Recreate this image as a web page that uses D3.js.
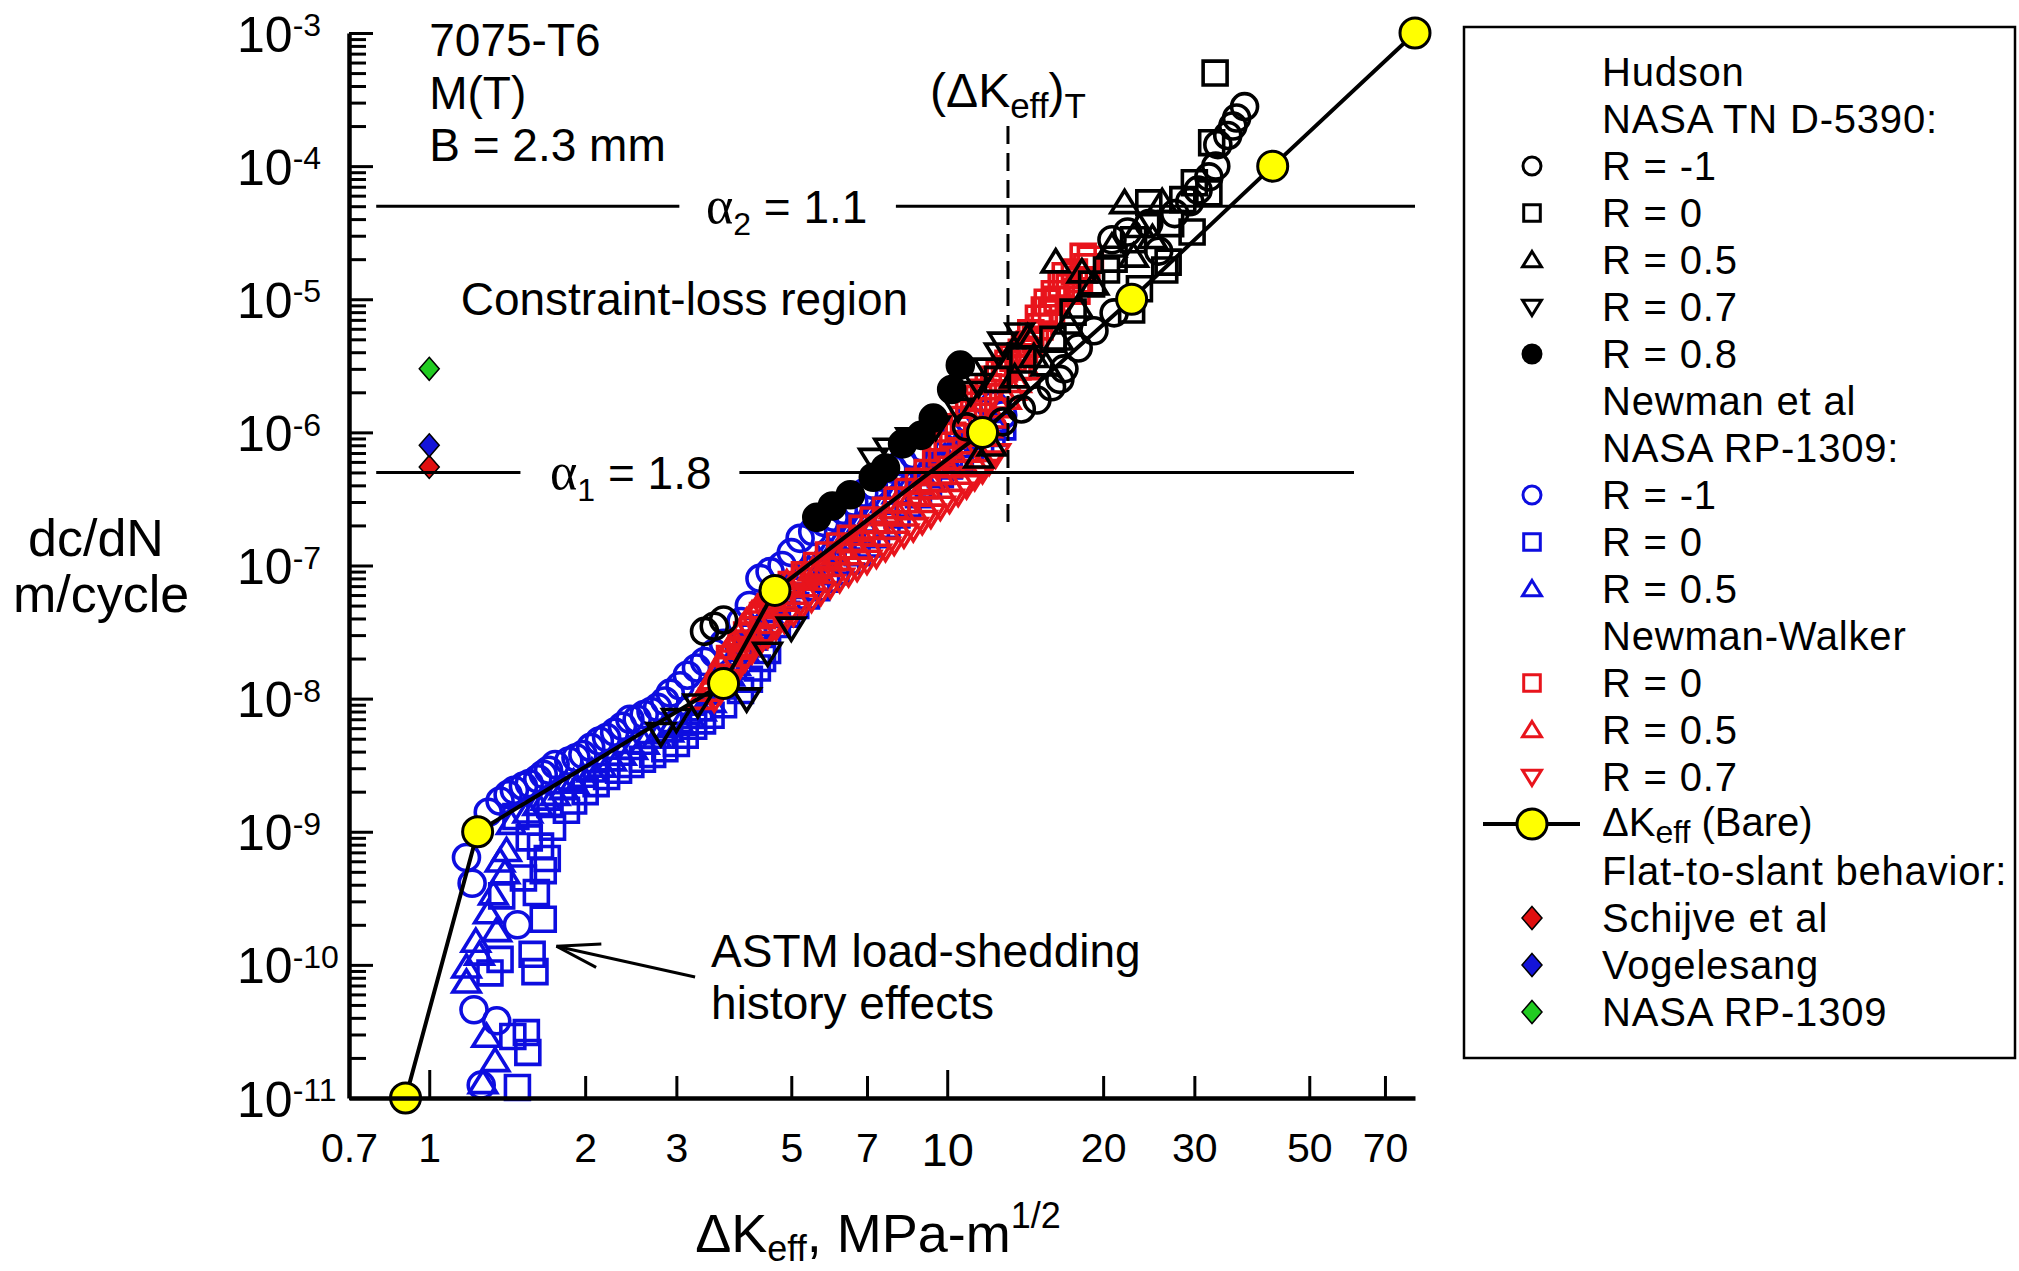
<!DOCTYPE html>
<html>
<head>
<meta charset="utf-8">
<script src="https://cdn.jsdelivr.net/npm/d3@7"></script>
<style>
  body { margin: 0; background: #fff; }
</style>
</head>
<body>
<div id="chart"></div>
<script>
// ---- data: [deltaKeff (MPa-m^1/2), dc/dN (m/cycle)]
const hudsonRm1 = [[3.4,3.2e-8],[3.55,3.5e-8],[3.7,3.9e-8],[10.9,1.1e-6],[12.8,1.2e-6],[13.9,1.5e-6],[14.9,1.75e-6],
  [15.9,2.2e-6],[16.5,2.5e-6],[16.8,3.0e-6],[17.9,4.3e-6],[19.2,5.8e-6],[21,7.9e-6],[20.8,2.8e-5],[22.3,3.2e-5],
  [24.5,3.7e-5],[25.6,2.3e-5],[27.5,4.4e-5],[29.4,5.4e-5],[30.5,6.6e-5],[32,8.3e-5],[33,1.0e-4],[33.3,1.45e-4],
  [34.8,1.7e-4],[35.6,2.0e-4],[36.2,2.3e-4],[37.5,2.8e-4]];
const hudsonR0 = [[32.9,5.0e-4],[32.4,1.5e-4],[30,7.5e-5],[32,6.3e-5],[28.5,5.6e-5],[24.5,5.3e-5],[27,3.7e-5],
  [29.7,3.2e-5],[22.9,2.8e-5],[21,2.0e-5],[26.7,1.9e-5],[20.3,1.66e-5],[26.3,1.66e-5],[23.5,1.2e-5],[22.7,8.3e-6],
  [19,1.3e-5],[17.5,8e-6],[16,5e-6],[14,3.5e-6],[12.5,2.5e-6]];
const hudsonR05 = [[22,5.3e-5],[26,5.4e-5],[24.9,2.9e-5],[20.8,2.5e-5],[22.9,2.1e-5],[16.2,1.9e-5],[19.2,1.3e-5],
  [17.9,8.7e-6],[17.1,6.6e-6],[16.4,5.0e-6],[14.7,3.7e-6],[14.3,5.2e-6],[13.5,2.6e-6],[15.5,3.2e-6],[12.2,8e-7],
  [11.5,6.5e-7],[23.5,3.5e-5],[18.2,1.6e-5]];
const hudsonR07 = [[2.8,5.5e-9],[3.0,7e-9],[3.3,9e-9],[4.1,1.0e-8],[4.5,2.2e-8],[5.0,3.4e-8],[7.2,6.3e-7],
  [7.7,7.5e-7],[8.5,9e-7],[9.5,1.1e-6],[10.5,1.5e-6],[11.1,2.0e-6],[11.5,2.3e-6],[12.0,3.0e-6],[12.6,3.9e-6],
  [12.8,4.7e-6],[13.8,5.5e-6]];
const hudsonR08 = [[5.6,2.3e-7],[6.0,2.8e-7],[6.5,3.4e-7],[7.2,4.6e-7],[7.6,5.4e-7],[8.2,8.2e-7],[8.9,9.5e-7],
  [9.4,1.28e-6],[10.2,2.1e-6],[10.6,3.2e-6]];

const newmanRm1 = [[1.26,1.25e-11],[1.22,4.6e-11],[1.35,3.8e-11],[1.48,2.0e-10],[1.21,4.1e-10],[1.18,6.4e-10],
  [1.30,1.4e-9],[1.37,1.7e-9],[1.42,1.9e-9],[1.46,2.05e-9],[1.52,2.2e-9],[1.56,2.3e-9],[1.62,2.5e-9],[1.66,2.7e-9],
  [1.7,2.9e-9],[1.75,3.2e-9],[1.86,3.4e-9],[1.92,3.6e-9],[1.98,3.8e-9],[2.05,4.3e-9],[2.13,4.8e-9],[2.2,5.1e-9],
  [2.28,5.6e-9],[2.36,6.2e-9],[2.44,7.0e-9],[2.52,7.0e-9],[2.6,7.6e-9],[2.68,8.0e-9],[2.76,8.6e-9],[2.85,9.6e-9],
  [2.92,1.1e-8],[3.05,1.25e-8],[3.15,1.5e-8],[3.28,1.7e-8],[3.4,1.9e-8],[3.55,2.2e-8],[3.7,2.6e-8],[4.0,3.8e-8],
  [4.15,5.0e-8],[4.35,8e-8],[4.55,9e-8],[4.8,1.0e-7],[5.0,1.25e-7],[5.2,1.6e-7],[5.5,1.8e-7],[5.8,2.1e-7],
  [6.05,2.3e-7],[6.3,2.6e-7],[6.6,3.0e-7],[6.9,3.5e-7],[7.2,4.0e-7],[7.5,4.6e-7],[7.85,5.3e-7],[8.2,6.0e-7],
  [8.6,6.8e-7],[9.0,7.6e-7],[9.5,8.6e-7],[10.0,9.8e-7],[10.5,1.1e-6],[11.0,1.25e-6],[11.6,1.4e-6],[12.3,1.6e-6],
  [12.8,1.35e-6]];
const newmanR0 = [[1.48,1.2e-11],[1.55,2.2e-11],[1.45,2.9e-11],[1.54,3.1e-11],[1.31,8.7e-11],[1.37,1.1e-10],
  [1.6,8.9e-11],[1.58,1.2e-10],[1.66,2.2e-10],[1.38,3.3e-10],[1.61,3.5e-10],[1.52,4.5e-10],[1.66,5.1e-10],
  [1.69,6.3e-10],[1.64,7.8e-10],[1.56,9e-10],[1.73,1.08e-9],[1.47,1.3e-9],[1.71,1.6e-9],[1.84,1.45e-9],
  [1.9,1.7e-9],[2.0,2.0e-9],[2.1,2.3e-9],[2.2,2.6e-9],[2.32,2.9e-9],[2.45,3.2e-9],[2.58,3.5e-9],[2.7,3.8e-9],
  [2.85,4.2e-9],[3.0,4.6e-9],[3.12,5.3e-9],[3.24,6.2e-9],[3.37,6.8e-9],[3.5,7.5e-9],[3.7,9.0e-9],[3.99,1.15e-8],
  [4.15,1.4e-8],[4.3,1.7e-8],[4.4,2.0e-8],[4.5,2.3e-8],[4.23,2.9e-8],[4.7,3.6e-8],[4.9,4.3e-8],[5.1,5e-8],
  [5.35,5.9e-8],[5.6,6.8e-8],[5.85,7.9e-8],[6.1,9e-8],[6.4,1.08e-7],[6.7,1.25e-7],[7.0,1.45e-7],[7.3,1.7e-7],
  [7.65,2.0e-7],[8.0,2.4e-7],[8.4,2.9e-7],[8.8,3.4e-7],[9.2,4.0e-7],[9.7,4.8e-7],[10.1,5.6e-7],[10.6,6.5e-7],
  [11.1,7.5e-7],[11.6,8.5e-7],[12.2,9.8e-7],[12.8,1.1e-6]];
const newmanR05 = [[1.27,1.3e-11],[1.34,1.9e-11],[1.29,2.9e-11],[1.18,7.4e-11],[1.18,9.6e-11],[1.25,1.2e-10],
  [1.23,1.5e-10],[1.35,1.8e-10],[1.30,2.45e-10],[1.33,3.4e-10],[1.40,4.9e-10],[1.37,6e-10],[1.41,7.2e-10],
  [1.44,1.15e-9],[1.55,1.4e-9],[1.62,1.6e-9],[1.68,1.75e-9],[1.75,1.9e-9],[1.82,2.1e-9],[1.9,2.35e-9],
  [1.98,2.6e-9],[2.06,2.85e-9],[2.15,3.1e-9],[2.25,3.45e-9],[2.35,3.8e-9],[2.47,4.2e-9],[2.6,4.6e-9],
  [2.75,5.1e-9],[2.9,5.7e-9],[3.05,6.4e-9],[3.2,7.2e-9],[3.35,8.2e-9],[3.5,9.5e-9],[3.65,1.2e-8],[3.8,1.5e-8],
  [3.9,1.8e-8],[4.05,2.3e-8],[4.2,2.8e-8],[4.35,3.6e-8],[4.5,4.5e-8],[4.7,5.6e-8],[4.9,6.8e-8],[5.15,8.2e-8],
  [5.4,9.5e-8],[5.65,1.1e-7],[5.9,1.3e-7],[6.2,1.55e-7],[6.5,1.8e-7],[6.85,2.15e-7],[7.2,2.5e-7],[7.6,3.0e-7],
  [8.0,3.5e-7],[8.45,4.1e-7],[8.9,4.8e-7],[9.4,5.6e-7],[9.9,6.6e-7],[10.4,7.8e-7],[11,9e-7],[11.6,1.05e-6],
  [12.3,1.2e-6]];

const walkerR0 = [[3.8,2.0e-8],[4.0,2.6e-8],[4.1,3.0e-8],[4.4,4.2e-8],[4.6,5.2e-8],[4.8,6.0e-8],[5.0,7.2e-8],
  [5.3,8.5e-8],[5.6,1.0e-7],[5.9,1.2e-7],[6.2,1.4e-7],[6.5,1.6e-7],[6.85,1.9e-7],[7.2,2.2e-7],[7.6,2.6e-7],
  [8.0,3.1e-7],[8.4,3.6e-7],[8.8,4.3e-7],[9.15,5.0e-7],[9.5,6.0e-7],[9.75,7e-7],[10.0,8.0e-7],[10.25,9.5e-7],
  [10.5,1.1e-6],[10.75,1.25e-6],[11.0,1.4e-6],[11.25,1.6e-6],[11.5,1.8e-6],[11.75,2.0e-6],[12.0,2.2e-6],
  [12.3,2.5e-6],[12.6,2.8e-6],[12.9,3.0e-6],[13.1,3.3e-6],[13.4,3.6e-6],[13.7,3.1e-6],[13.9,4.0e-6],[14.1,4.2e-6],
  [14.4,4.6e-6],[14.5,5.6e-6],[14.8,5.0e-6],[15.0,7.2e-6],[15.1,6.2e-6],[15.4,8.3e-6],[15.6,9.5e-6],[15.9,7.9e-6],
  [16.1,1.1e-5],[16.3,1.0e-5],[16.6,1.3e-5],[16.9,1.5e-5],[17.2,1.24e-5],[17.6,1.6e-5],[17.8,1.15e-5],
  [18.0,1.4e-5],[18.3,2.1e-5],[18.6,1.75e-5],[18.9,2.0e-5]];
const walkerR05 = [[3.35,1.0e-8],[3.42,1.15e-8],[3.5,1.3e-8],[3.58,1.55e-8],[3.65,1.8e-8],[3.72,2.1e-8],
  [3.8,2.4e-8],[3.88,2.7e-8],[3.95,3.0e-8],[4.02,3.4e-8],[4.1,3.8e-8],[4.2,4.3e-8],[4.3,4.8e-8],[4.4,5.3e-8],
  [4.5,5.8e-8],[4.62,6.3e-8],[4.75,6.8e-8],[4.9,7.4e-8],[5.1,8e-8],[5.3,8.6e-8],[5.5,9.2e-8],[5.7,1.0e-7],
  [5.9,1.1e-7],[6.1,1.22e-7],[6.3,1.35e-7],[6.55,1.5e-7],[6.8,1.7e-7],[7.05,1.9e-7],[7.3,2.1e-7],[7.6,2.4e-7],
  [7.9,2.7e-7],[8.25,3.0e-7],[8.6,3.4e-7],[8.95,3.8e-7],[9.3,4.3e-7],[9.65,4.9e-7],[10.0,5.5e-7],[10.4,6.3e-7],
  [10.8,7.2e-7],[11.2,8.3e-7],[11.6,9.5e-7],[11.95,1.1e-6],[12.3,1.3e-6],[12.65,1.55e-6],[13.0,1.8e-6],
  [13.3,2.1e-6],[13.6,2.4e-6],[14.2,3.0e-6]];
const walkerR07 = [[3.55,1.0e-8],[3.65,1.15e-8],[3.75,1.3e-8],[3.85,1.5e-8],[3.95,1.7e-8],[4.07,2.0e-8],
  [4.2,2.3e-8],[4.35,2.65e-8],[4.5,3.0e-8],[4.67,3.45e-8],[4.85,3.9e-8],[5.05,4.4e-8],[5.25,5.0e-8],
  [5.47,5.6e-8],[5.7,6.3e-8],[5.95,7.1e-8],[6.2,7.9e-8],[6.45,8.7e-8],[6.7,9.6e-8],[7.0,1.08e-7],[7.3,1.2e-7],
  [7.6,1.35e-7],[7.9,1.5e-7],[8.25,1.7e-7],[8.6,1.9e-7],[8.95,2.15e-7],[9.3,2.4e-7],[9.7,2.75e-7],[10.1,3.1e-7],
  [10.5,3.5e-7],[10.9,4.0e-7],[11.3,4.6e-7],[11.7,5.2e-7],[12.05,6e-7],[12.4,6.8e-7]];

const schijve = [[1.0,5.5e-7]];
const vogelesang = [[1.0,8e-7]];
const nasaRP1309 = [[1.0,3e-6]];

const bareKeff = [[0.9,1e-11],[1.24,1e-9],[3.7,1.3e-8],[4.65,6.5e-8],[11.7,1e-6],[22.7,1e-5],[42.5,1e-4],[80,1e-3]];

// reference lines
const alpha2Rate = 5e-5;
const alpha2Spans = [[0.79, 3.04], [7.96, 80]];
const alpha1Rate = 5e-7;
const alpha1Spans = [[0.79, 1.5], [3.97, 61]];
const transitionK = 13.1;
const transitionSpan = [2e-7, 2e-4];

// axes
const xTickValues = [0.7, 1, 2, 3, 5, 7, 10, 20, 30, 50, 70];
const yExponents = [-11, -10, -9, -8, -7, -6, -5, -4, -3];
const yMinorMultipliers = [2, 3, 4, 5, 6, 7, 8, 9];

const legendLabels = ['Hudson', 'NASA TN D-5390:', 'R = -1', 'R = 0', 'R = 0.5', 'R = 0.7', 'R = 0.8',
  'Newman et al', 'NASA RP-1309:', 'R = -1', 'R = 0', 'R = 0.5', 'Newman-Walker', 'R = 0', 'R = 0.5', 'R = 0.7',
  'ΔKeff (Bare)', 'Flat-to-slant behavior:', 'Schijve et al', 'Vogelesang', 'NASA RP-1309'];
const legendKeys = [null, null, 'hRm1', 'hR0', 'hR05', 'hR07', 'hR08', null, null, 'nRm1', 'nR0', 'nR05', null,
  'wR0', 'wR05', 'wR07', 'bare', null, 'schijve', 'vogel', 'nasa'];

// ---- chart
const FONT = '"Liberation Sans", Arial, sans-serif';
const BLUE = '#0d0de0', RED = '#e8141c', BLACK = '#000';
const width = 2019, height = 1271;
const margin = { top: 33, right: 604, bottom: 173, left: 349 };

const svg = d3.select('#chart').append('svg')
  .attr('width', width).attr('height', height)
  .attr('viewBox', `0 0 ${width} ${height}`)
  .style('font-family', FONT);

const x = d3.scaleLog().domain([0.7, 80]).range([margin.left, width - margin.right]);
const y = d3.scaleLog().domain([1e-11, 1e-3]).range([height - margin.bottom, margin.top]);

function markerPath(shape, s) {
  switch (shape) {
    case 'circle': return d3.symbol(d3.symbolCircle, Math.PI * s * s)();
    case 'square': return d3.symbol(d3.symbolSquare, 4 * s * s * 0.85)();
    case 'up': return `M0,${-0.95 * s}L${1.05 * s},${0.75 * s}L${-1.05 * s},${0.75 * s}Z`;
    case 'down': return `M0,${0.95 * s}L${1.05 * s},${-0.75 * s}L${-1.05 * s},${-0.75 * s}Z`;
    case 'diamond': return `M0,${-1.15 * s}L${s},0L0,${1.15 * s}L${-s},0Z`;
  }
}

const series = {
  nRm1: { data: newmanRm1, shape: 'circle', color: BLUE },
  nR0: { data: newmanR0, shape: 'square', color: BLUE },
  nR05: { data: newmanR05, shape: 'up', color: BLUE },
  wR0: { data: walkerR0, shape: 'square', color: RED },
  wR05: { data: walkerR05, shape: 'up', color: RED },
  wR07: { data: walkerR07, shape: 'down', color: RED },
  hRm1: { data: hudsonRm1, shape: 'circle', color: BLACK },
  hR0: { data: hudsonR0, shape: 'square', color: BLACK },
  hR05: { data: hudsonR05, shape: 'up', color: BLACK },
  hR07: { data: hudsonR07, shape: 'down', color: BLACK },
  hR08: { data: hudsonR08, shape: 'circle', color: BLACK, fill: BLACK },
  schijve: { data: schijve, shape: 'diamond', color: BLACK, fill: '#e01010', sw: 1.5 },
  vogel: { data: vogelesang, shape: 'diamond', color: BLACK, fill: '#1414d8', sw: 1.5 },
  nasa: { data: nasaRP1309, shape: 'diamond', color: BLACK, fill: '#22cc22', sw: 1.5 }
};

// --- markers
const markG = svg.append('g').attr('class', 'marks');
Object.entries(series).forEach(([key, s]) => {
  const size = s.shape === 'diamond' ? 10 : 13;
  markG.append('g').attr('class', key)
    .selectAll('path')
    .data(s.data)
    .join('path')
    .attr('transform', d => `translate(${x(d[0])},${y(d[1])})`)
    .attr('d', markerPath(s.shape, size))
    .attr('fill', s.fill || 'none')
    .attr('stroke', s.color)
    .attr('stroke-width', s.sw || 3.6);
});

// --- reference lines
const refG = svg.append('g').attr('stroke', BLACK).attr('fill', 'none');
alpha2Spans.forEach(sp => refG.append('line')
  .attr('x1', x(sp[0])).attr('x2', x(sp[1])).attr('y1', y(alpha2Rate)).attr('y2', y(alpha2Rate))
  .attr('stroke-width', 3));
alpha1Spans.forEach(sp => refG.append('line')
  .attr('x1', x(sp[0])).attr('x2', x(sp[1])).attr('y1', y(alpha1Rate)).attr('y2', y(alpha1Rate))
  .attr('stroke-width', 3));
refG.append('line')
  .attr('x1', x(transitionK)).attr('x2', x(transitionK))
  .attr('y1', y(transitionSpan[1])).attr('y2', y(transitionSpan[0]))
  .attr('stroke-width', 3).attr('stroke-dasharray', '18,9');

// --- bare deltaKeff curve
const line = d3.line().x(d => x(d[0])).y(d => y(d[1]));
svg.append('path').datum(bareKeff)
  .attr('d', line).attr('fill', 'none').attr('stroke', BLACK).attr('stroke-width', 4);
svg.append('g').selectAll('circle').data(bareKeff).join('circle')
  .attr('cx', d => x(d[0])).attr('cy', d => y(d[1])).attr('r', 15)
  .attr('fill', '#ffff00').attr('stroke', BLACK).attr('stroke-width', 3);

// --- axes
const xAxis = d3.axisBottom(x).tickValues(xTickValues).tickFormat(d => String(d))
  .tickSize(-22).tickSizeOuter(0).tickPadding(35);
const gx = svg.append('g').attr('transform', `translate(0,${y.range()[0]})`).call(xAxis)
  .attr('font-family', FONT);
gx.select('.domain').attr('stroke-width', 4.5);
gx.selectAll('.tick line').attr('stroke-width', 3)
  .attr('y2', d => d === 0.7 ? 0 : (d === 1 || d === 10) ? -28 : -22);
gx.selectAll('.tick text').attr('font-size', d => d === 10 ? 47 : 41).attr('fill', BLACK);

const yMajor = yExponents.map(e => Math.pow(10, e));
const yMinor = yExponents.slice(0, -1).flatMap(e => yMinorMultipliers.map(m => m * Math.pow(10, e)));

const gyMinor = svg.append('g').attr('transform', `translate(${x.range()[0]},0)`)
  .call(d3.axisLeft(y).tickValues(yMinor).tickFormat('').tickSize(-17).tickSizeOuter(0));
gyMinor.select('.domain').remove();
gyMinor.selectAll('.tick line').attr('stroke-width', 3);

const gy = svg.append('g').attr('transform', `translate(${x.range()[0]},0)`)
  .call(d3.axisLeft(y).tickValues(yMajor).tickFormat('').tickSize(-24).tickSizeOuter(0))
  .attr('font-family', FONT);
gy.select('.domain').attr('stroke-width', 4.5);
gy.selectAll('.tick line').attr('stroke-width', 3);
gy.selectAll('.tick text')
  .attr('x', -112).attr('dy', '0.36em').attr('text-anchor', 'start')
  .attr('font-size', 50).attr('fill', BLACK)
  .each(function (d) {
    const t = d3.select(this);
    t.text(null);
    t.append('tspan').text('10');
    t.append('tspan').attr('dy', '-0.48em').attr('font-size', 32).text(String(Math.round(Math.log10(d))));
  });

// axis titles
const yTitle = svg.append('text').attr('font-size', 52).attr('text-anchor', 'middle');
yTitle.append('tspan').attr('x', 96).attr('y', 556).text('dc/dN');
yTitle.append('tspan').attr('x', 101).attr('y', 612).text('m/cycle');

const xTitle = svg.append('text').attr('font-size', 54).attr('text-anchor', 'middle')
  .attr('x', 878).attr('y', 1252);
xTitle.append('tspan').text('ΔK');
xTitle.append('tspan').attr('font-size', 36).attr('dy', 9).text('eff');
xTitle.append('tspan').attr('dy', -9).text(', MPa-m');
xTitle.append('tspan').attr('font-size', 36).attr('dy', -24).text('1/2');

// --- annotations
const annoSize = 46;
const noteG = svg.append('g').attr('font-size', annoSize).attr('fill', BLACK);
[['7075-T6', 6.7e-4], ['M(T)', 2.7e-4], ['B = 2.3 mm', 1.1e-4]].forEach(([txt, v]) =>
  noteG.append('text').attr('x', x(1.0)).attr('y', y(v)).text(txt));
noteG.append('text').attr('x', x(1.15)).attr('y', y(7.6e-6)).text('Constraint-loss region');

function alphaLabel(k, rate, sub, val) {
  const t = noteG.append('text').attr('x', x(k)).attr('y', y(rate)).attr('dy', '0.36em')
    .attr('text-anchor', 'middle');
  t.append('tspan').attr('font-family', '"Liberation Serif", "DejaVu Serif", serif').attr('font-size', 52).text('α');
  t.append('tspan').attr('font-size', 32).attr('dy', 12).text(sub);
  t.append('tspan').attr('dy', -12).text(' = ' + val);
}
alphaLabel(4.9, alpha2Rate, '2', '1.1');
alphaLabel(2.45, alpha1Rate, '1', '1.8');

const tLabel = noteG.append('text').attr('x', x(transitionK)).attr('y', y(2.8e-4))
  .attr('text-anchor', 'middle').attr('font-size', 48);
tLabel.append('tspan').text('(ΔK');
tLabel.append('tspan').attr('font-size', 35).attr('dy', 11).text('eff');
tLabel.append('tspan').attr('dy', -11).text(')');
tLabel.append('tspan').attr('font-size', 35).attr('dy', 11).text('T');

noteG.append('text').attr('x', x(3.5)).attr('y', y(9.6e-11)).text('ASTM load-shedding');
noteG.append('text').attr('x', x(3.5)).attr('y', y(3.9e-11)).text('history effects');

// arrow
const tail = [x(3.26), y(8.1e-11)], tip = [x(1.76), y(1.38e-10)];
const ang = Math.atan2(tail[1] - tip[1], tail[0] - tip[0]);
const arrowG = svg.append('g').attr('stroke', BLACK).attr('stroke-width', 3).attr('fill', 'none');
arrowG.append('line').attr('x1', tail[0]).attr('y1', tail[1]).attr('x2', tip[0]).attr('y2', tip[1]);
[-0.27, 0.27].forEach(da => arrowG.append('line')
  .attr('x1', tip[0]).attr('y1', tip[1])
  .attr('x2', tip[0] + 45 * Math.cos(ang + da)).attr('y2', tip[1] + 45 * Math.sin(ang + da)));

// --- legend
const lg = svg.append('g').attr('class', 'legend');
lg.append('rect').attr('x', 1464).attr('y', 27).attr('width', 551).attr('height', 1031)
  .attr('fill', '#fff').attr('stroke', BLACK).attr('stroke-width', 2.5);

const rowY = i => 72 + 47 * i;
legendLabels.forEach((lab, i) => {
  const key = legendKeys[i];
  const cy = rowY(i);
  if (key === 'bare') {
    lg.append('line').attr('x1', 1483).attr('x2', 1580).attr('y1', cy).attr('y2', cy)
      .attr('stroke', BLACK).attr('stroke-width', 4);
    lg.append('circle').attr('cx', 1532).attr('cy', cy).attr('r', 15)
      .attr('fill', '#ffff00').attr('stroke', BLACK).attr('stroke-width', 3);
    const t = lg.append('text').attr('x', 1602).attr('y', cy + 12).attr('font-size', 40);
    t.append('tspan').text('ΔK');
    t.append('tspan').attr('font-size', 32).attr('dy', 7).text('eff');
    t.append('tspan').attr('dy', -7).text('  (Bare)');
    return;
  }
  if (key) {
    const s = series[key];
    lg.append('path')
      .attr('transform', `translate(1532,${cy})`)
      .attr('d', markerPath(s.shape, s.shape === 'diamond' ? 10 : 9))
      .attr('fill', s.fill || 'none').attr('stroke', s.color).attr('stroke-width', s.sw || 3);
  }
  lg.append('text').attr('x', 1602).attr('y', cy + 14).attr('font-size', 40)
    .attr('letter-spacing', 0.8).text(lab);
});
</script>
</body>
</html>
